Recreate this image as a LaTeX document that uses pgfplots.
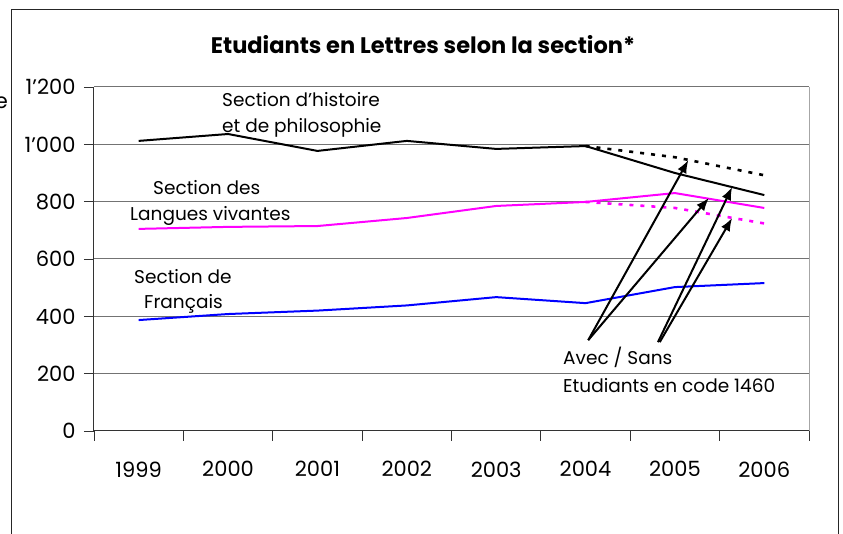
\documentclass[border=0pt]{standalone}
\usepackage{pgfplots}
\pgfplotsset{compat=1.18}
\usepackage{fontspec}
\setmainfont{Poppins}
\usetikzlibrary{arrows.meta}
\definecolor{mag}{RGB}{255,0,255}
\definecolor{blu}{RGB}{0,0,255}
\begin{document}
\begin{tikzpicture}[x=1pt,y=1pt]
\useasboundingbox (-94,-103) rectangle (749,431);
\draw[line width=1pt, black!85] (-82,-110) -- (-82,421) -- (744,421) -- (744,-110);
\node[anchor=east, font=\fontsize{21}{24}\selectfont, inner sep=0pt] at (-86,330) {Titre};
\node[font=\fontsize{22.5}{26}\selectfont\bfseries] at (329,386) {Etudiants en Lettres selon la section*};
\begin{axis}[
  at={(0,0)}, anchor=south west,
  scale only axis, width=715pt, height=344pt,
  xmin=-0.5, xmax=7.5, ymin=0, ymax=1200,
  axis x line*=bottom, axis y line*=left,
  axis line style={black!80, line width=1pt},
  xtick={-0.5,0.5,...,7.5}, x tick label as interval,
  xticklabels={1999,2000,2001,2002,2003,2004,2005,2006},
  ytick={0,200,...,1200},
  yticklabels={0,200,400,600,800,1'000,1'200},
  tick align=outside, major tick length=10pt,
  tick style={black!80, line width=0.8pt},
  ymajorgrids, grid style={black!55, line width=1pt},
  ticklabel style={font=\fontsize{21}{24}\selectfont},
  xticklabel style={yshift=-17pt},
  yticklabel style={xshift=-5pt},
  clip=false,
]
\draw[black!35, line width=0.8pt] (rel axis cs:1,0) -- (rel axis cs:1,1);
% dotted "sans" series
\addplot[black, line width=2.6pt, dash pattern=on 4pt off 7pt] coordinates {(5,994) (6,955) (7,892)};
\addplot[mag, line width=2.6pt, dash pattern=on 4pt off 7pt] coordinates {(5,799) (6,778) (7,724)};
% solid series
\addplot[black, line width=2pt] coordinates {(0,1012) (1,1036) (2,977) (3,1012) (4,984) (5,994) (6,900) (7,823)};
\addplot[mag, line width=2pt] coordinates {(0,705) (1,712) (2,715) (3,743) (4,785) (5,799) (6,830) (7,778)};
\addplot[blu, line width=2pt] coordinates {(0,387) (1,408) (2,420) (3,438) (4,467) (5,446) (6,502) (7,516)};
% arrows
\draw[-{Latex[length=13pt,width=10pt]}, line width=2pt] (axis cs:5.03,317) -- (axis cs:6.15,945);
\draw[-{Latex[length=13pt,width=10pt]}, line width=2pt] (axis cs:5.03,317) -- (axis cs:6.38,813);
\draw[-{Latex[length=13pt,width=10pt]}, line width=2pt] (axis cs:5.81,310) -- (axis cs:6.64,851);
\draw[-{Latex[length=13pt,width=10pt]}, line width=2pt] (axis cs:5.83,310) -- (axis cs:6.64,743);
\end{axis}
\begin{scope}[every node/.style={anchor=west, inner sep=0pt, font=\fontsize{18.5}{22}\selectfont}]
\node at (128,331) {Section d'histoire};
\node at (128,303) {et de philosophie};
\node at (59,243) {Section des};
\node at (36,215) {Langues vivantes};
\node at (40,154) {Section de};
\node at (50,127) {Français};
\node at (469,74) {Avec / Sans};
\node at (469,45) {Etudiants en code 1460};
\end{scope}
\end{tikzpicture}
\end{document}
